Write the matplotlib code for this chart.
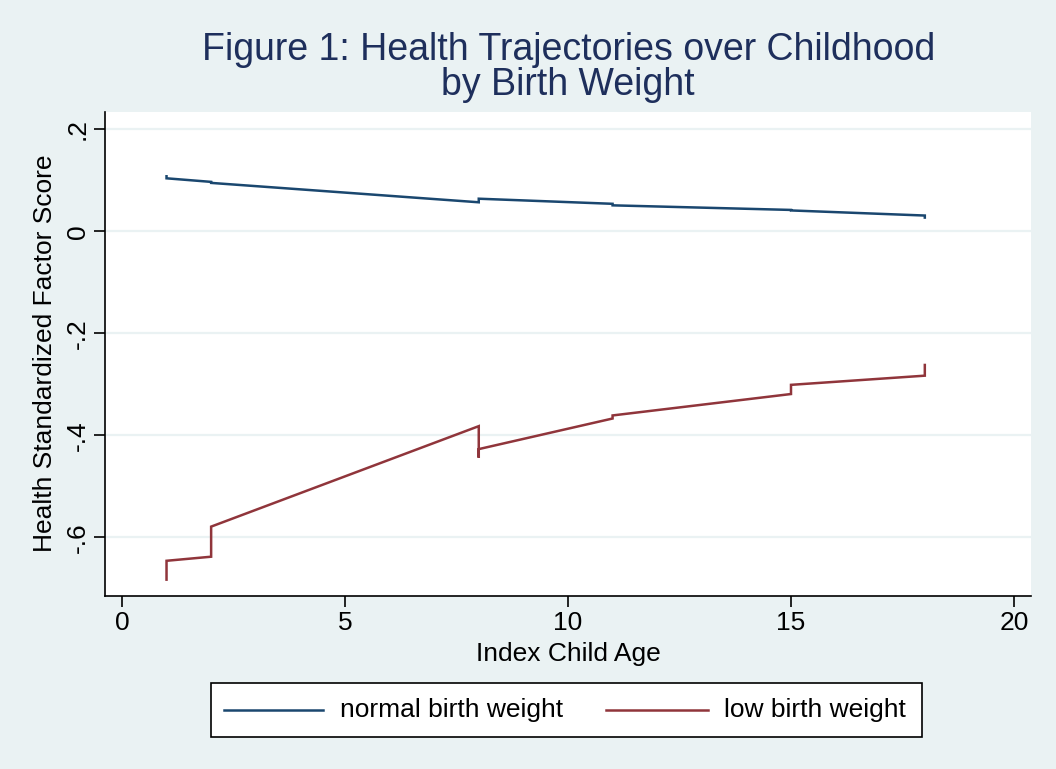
import matplotlib
matplotlib.use("Agg")
import matplotlib.pyplot as plt
from matplotlib.lines import Line2D
from matplotlib.patches import Rectangle

# Mean health factor score by child age (repeated ages carry several estimates)
age_normal = [1, 1, 2, 2, 8, 8, 11, 11, 15, 15, 18, 18]
score_normal = [0.108, 0.104, 0.097, 0.095, 0.057, 0.064, 0.054, 0.051, 0.042, 0.041, 0.031, 0.027]

age_low = [1, 1, 2, 2, 8, 8, 8, 11, 11, 15, 15, 18, 18]
score_low = [-0.683, -0.646, -0.638, -0.579, -0.382, -0.444, -0.427, -0.367, -0.361, -0.319, -0.301, -0.283, -0.262]

x_ticks = [0, 5, 10, 15, 20]
y_ticks = [0.2, 0, -0.2, -0.4, -0.6]
y_tick_labels = [".2", "0", "-.2", "-.4", "-.6"]

series_labels = ["normal birth weight", "low birth weight"]

BG = "#EAF2F3"
NAVY = "#1A476F"
MAROON = "#90353B"
TITLE = "#1E2F5C"

plt.rcParams["font.family"] = ["Liberation Sans", "DejaVu Sans"]

fig = plt.figure(figsize=(10.56, 7.69), dpi=100, facecolor=BG)
ax = fig.add_axes([0.0994, 0.225, 0.8769, 0.630])
ax.set_facecolor("white")

ax.plot(age_normal, score_normal, color=NAVY, lw=1.8, solid_joinstyle="miter")
ax.plot(age_low, score_low, color=MAROON, lw=1.8, solid_joinstyle="miter")

ax.set_xlim(-0.38, 20.38)
ax.set_ylim(-0.715, 0.235)

ax.set_xticks(x_ticks)
ax.set_xticklabels([str(t) for t in x_ticks])
ax.set_yticks(y_ticks)
ax.set_yticklabels(y_tick_labels, rotation=90, va="center")

ax.grid(axis="y", color=BG, lw=1.6)
ax.set_axisbelow(True)

for side in ("top", "right"):
    ax.spines[side].set_visible(False)
for side in ("left", "bottom"):
    ax.spines[side].set_color("black")
    ax.spines[side].set_linewidth(1.2)

ax.tick_params(axis="both", direction="out", length=8, width=1.2, colors="black",
               labelsize=19, pad=3)

ax.set_xlabel("Index Child Age", fontsize=19, labelpad=5)
ax.set_ylabel("Health Standardized Factor Score", fontsize=19, labelpad=6)

fig.text(0.538, 0.935, "Figure 1: Health Trajectories over Childhood", ha="center",
         va="center", fontsize=27, color=TITLE)
fig.text(0.538, 0.889, "by Birth Weight", ha="center", va="center", fontsize=27, color=TITLE)

# Legend box drawn in figure coordinates
fig.patches.append(Rectangle((0.1998, 0.0416), 0.6733, 0.0702, transform=fig.transFigure,
                             facecolor="white", edgecolor="black", lw=1.2))
ly = 0.0767
fig.add_artist(Line2D([0.212, 0.306], [ly, ly], transform=fig.transFigure, color=NAVY, lw=1.8))
fig.text(0.322, ly, series_labels[0], ha="left", va="center", fontsize=19)
fig.add_artist(Line2D([0.574, 0.670], [ly, ly], transform=fig.transFigure, color=MAROON, lw=1.8))
fig.text(0.686, ly, series_labels[1], ha="left", va="center", fontsize=19)

fig.savefig("out.png", dpi=100, facecolor=BG)
